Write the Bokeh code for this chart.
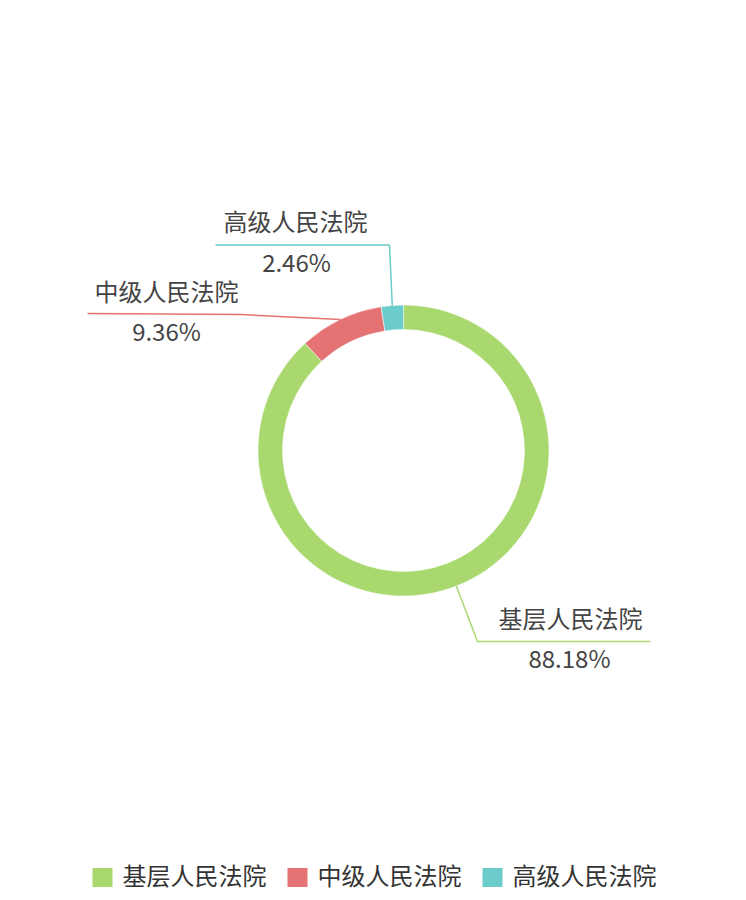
import math
from bokeh.plotting import figure
from bokeh.models import Range1d
from bokeh.embed import file_html
from bokeh.resources import INLINE
from bokeh.core.properties import value

# ---- data ----
categories = ["基层人民法院", "中级人民法院", "高级人民法院"]
shares = [88.18, 9.36, 2.46]
colors = ["#a8d86e", "#e57373", "#6ccbcb"]

W, H = 740, 894
FONT = "Noto Sans CJK SC"

def px(X):
    return X

def py(Y):
    return H - Y

p = figure(width=W, height=H, output_backend="svg", toolbar_location=None,
           x_range=Range1d(0, W), y_range=Range1d(0, H), min_border=0)
p.axis.visible = False
p.grid.visible = False
p.outline_line_color = None
p.background_fill_color = "white"
p.border_fill_color = "white"

cx, cy = px(403), py(450)
r_out, r_in = 145.5, 121

total = sum(shares)
starts, ends, mids = [], [], []
a = math.pi / 2
for s in shares:
    span = s / total * 2 * math.pi
    starts.append(a)
    ends.append(a - span)
    mids.append(a - span / 2)
    a -= span

p.annular_wedge(x=cx, y=cy, inner_radius=r_in, outer_radius=r_out,
                start_angle=starts, end_angle=ends, direction="clock",
                fill_color=colors, line_color="white", line_width=0.5)

# leader lines (layout), starting at the outer edge at each slice's mid angle
# (kink point, end point) in page pixels
leader = [((477, 641), (650, 641)),
          ((240, 314), (87, 313)),
          ((389, 244.5), (215, 244.5))]
name_pos = [(570, 617), (166, 290), (295, 220)]
val_pos = [(569, 657), (166, 330), (296, 261)]

for i in range(len(categories)):
    m = mids[i]
    x0 = cx + r_out * math.cos(m)
    y0 = cy + r_out * math.sin(m)
    (kx, ky), (ex, ey) = leader[i]
    p.line([x0, px(kx), px(ex)], [y0, py(ky), py(ey)],
           line_color=colors[i], line_width=1.5)
    p.text(x=[px(name_pos[i][0])], y=[py(name_pos[i][1])], text=[categories[i]],
           text_font=value(FONT), text_font_size="24px", text_color="#444444",
           text_align="center", text_baseline="middle")
    p.text(x=[px(val_pos[i][0])], y=[py(val_pos[i][1])],
           text=["%.2f%%" % shares[i]],
           text_font=value(FONT), text_font_size="24px", text_color="#444444",
           text_align="center", text_baseline="middle")

# legend
leg_y = py(877)
for i in range(len(categories)):
    sx = px(102 + 195 * i)
    p.rect(x=[sx], y=[leg_y], width=20, height=19, width_units="screen",
           height_units="screen", fill_color=colors[i], line_color=None)
    p.text(x=[px(122 + 195 * i)], y=[leg_y + 3], text=[categories[i]],
           text_font=value(FONT), text_font_size="24px", text_color="#333333",
           text_align="left", text_baseline="middle")

open("out.html", "w").write(file_html(p, INLINE))
